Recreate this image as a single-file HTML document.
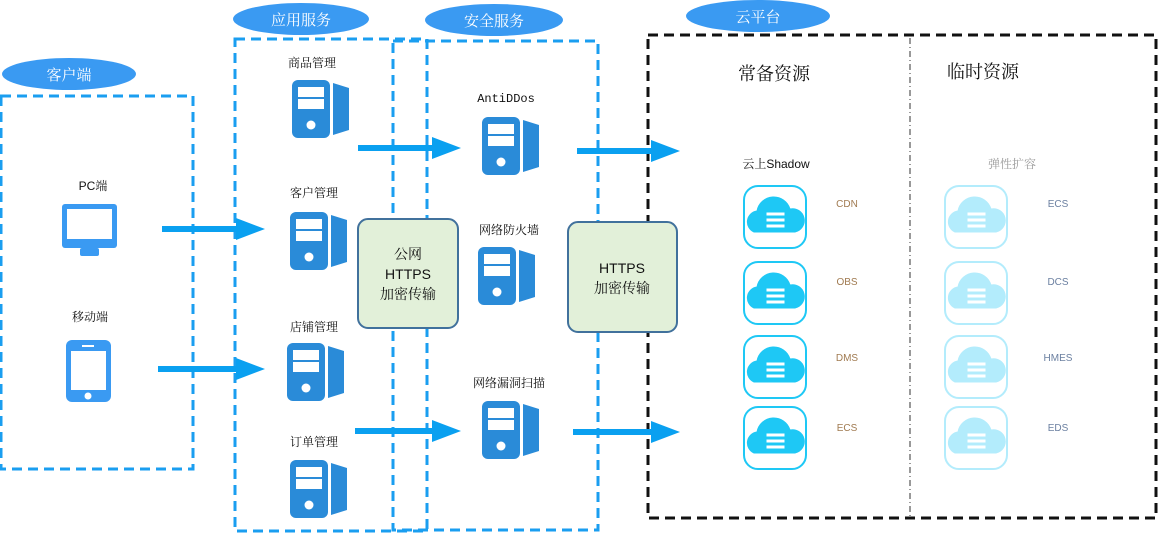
<!DOCTYPE html>
<html><head><meta charset="utf-8"><style>
body{margin:0;background:#fff;}
svg{display:block;font-family:"Liberation Sans","Noto Serif CJK SC",serif;}
</style></head><body>
<svg width="1163" height="534" viewBox="0 0 1163 534" xmlns="http://www.w3.org/2000/svg">
<defs>
<g id="srv">
<rect x="0" y="0" width="38" height="58" rx="6" fill="#2a8bd8"/>
<rect x="6" y="7" width="26" height="10" fill="#fff"/>
<rect x="6" y="19" width="26" height="10" fill="#fff"/>
<circle cx="19" cy="45" r="4.5" fill="#fff"/>
<path d="M41 3 L57 8 L57 50 L41 55 Z" fill="#2a8bd8"/>
</g>
<g id="cld">
<rect x="0" y="0" width="62" height="62" rx="14" fill="#fff" stroke-width="2"/>
<path d="M10 46 a11 11 0 0 1 3 -21 a17 17 0 0 1 33 -2 a11 11 0 0 1 5 23 Z"/>
<rect x="22" y="26" width="19" height="4" fill="#fff"/>
<rect x="22" y="32" width="19" height="4" fill="#fff"/>
<rect x="22" y="38" width="19" height="4" fill="#fff"/>
</g>
</defs>
<g fill="none" stroke="#1a9ef0" stroke-width="3" stroke-dasharray="10,6">
<rect x="1" y="96" width="192" height="373"/>
<rect x="235" y="39" width="192" height="492"/>
<rect x="393" y="41" width="205" height="489"/>
</g>
<rect x="648" y="35" width="508" height="483" fill="none" stroke="#111" stroke-width="3" stroke-dasharray="10,6"/>
<line x1="910" y1="38" x2="910" y2="516" stroke="#333" stroke-width="1" stroke-dasharray="6,3,1,3"/>
<g fill="#3a9af2">
<ellipse cx="69" cy="74" rx="67" ry="16"/>
<ellipse cx="301" cy="19" rx="68" ry="16"/>
<ellipse cx="494" cy="20" rx="69" ry="16"/>
<ellipse cx="758" cy="16" rx="72" ry="16"/>
</g>
<g fill="#fff" font-size="15" text-anchor="middle">
<text x="69" y="80">客户端</text>
<text x="301" y="25">应用服务</text>
<text x="494" y="26">安全服务</text>
<text x="758" y="22">云平台</text>
</g>
<g font-size="12" text-anchor="middle" fill="#111">
<text x="93" y="190">PC端</text>
<text x="90" y="321">移动端</text>
<text x="312" y="67">商品管理</text>
<text x="314" y="197">客户管理</text>
<text x="314" y="331">店铺管理</text>
<text x="314" y="446">订单管理</text>
<text x="506" y="102" font-family="Liberation Mono,monospace">AntiDDos</text>
<text x="509" y="234">网络防火墙</text>
<text x="509" y="387">网络漏洞扫描</text>
</g>
<rect x="62" y="204" width="55" height="44" rx="3" fill="#3a9af2"/>
<rect x="67" y="209" width="45" height="30" fill="#fff"/>
<rect x="80" y="248" width="19" height="8" rx="2" fill="#3a9af2"/>
<rect x="66" y="340" width="45" height="62" rx="6" fill="#3a9af2"/>
<rect x="71" y="351" width="35" height="39" fill="#fff"/>
<circle cx="88" cy="396" r="3.5" fill="#fff"/>
<rect x="82" y="345" width="12" height="2" fill="#fff"/>
<use href="#srv" x="292" y="80"/>
<use href="#srv" x="290" y="212"/>
<use href="#srv" x="287" y="343"/>
<use href="#srv" x="290" y="460"/>
<use href="#srv" x="482" y="117"/>
<use href="#srv" x="478" y="247"/>
<use href="#srv" x="482" y="401"/>
<g fill="#0aa0f0">
<rect x="162" y="226" width="76" height="6"/><path d="M236 218 L265 229 L236 240Z"/>
<rect x="158" y="366" width="80" height="6"/><path d="M236 358 L265 369 L236 380Z"/>
<rect x="358" y="145" width="76" height="6"/><path d="M432 137 L461 148 L432 159Z"/>
<rect x="355" y="428" width="79" height="6"/><path d="M432 420 L461 431 L432 442Z"/>
<rect x="577" y="148" width="76" height="6"/><path d="M651 140 L680 151 L651 162Z"/>
<rect x="573" y="429" width="80" height="6"/><path d="M651 421 L680 432 L651 443Z"/>
</g>
<rect x="358" y="219" width="100" height="109" rx="10" fill="#e2f0d9" stroke="#41719c" stroke-width="2"/>
<rect x="568" y="222" width="109" height="110" rx="10" fill="#e2f0d9" stroke="#41719c" stroke-width="2"/>
<g font-size="14" text-anchor="middle" fill="#111">
<text x="408" y="259">公网</text>
<text x="408" y="279">HTTPS</text>
<text x="408" y="299">加密传输</text>
<text x="622" y="273">HTTPS</text>
<text x="622" y="293">加密传输</text>
</g>
<g font-size="18" text-anchor="middle" fill="#111">
<text x="774" y="80">常备资源</text>
<text x="983" y="78">临时资源</text>
</g>
<text x="776" y="168" font-size="12" text-anchor="middle" fill="#111">云上Shadow</text>
<text x="1012" y="168" font-size="12" text-anchor="middle" fill="#999">弹性扩容</text>
<g stroke="#1ec8f5" fill="#1ec8f5">
<use href="#cld" x="744" y="186"/>
<use href="#cld" x="744" y="262"/>
<use href="#cld" x="744" y="336"/>
<use href="#cld" x="744" y="407"/>
</g>
<g stroke="#b3ecfc" fill="#b3ecfc">
<use href="#cld" x="945" y="186"/>
<use href="#cld" x="945" y="262"/>
<use href="#cld" x="945" y="336"/>
<use href="#cld" x="945" y="407"/>
</g>
<g font-size="10" fill="#a07a50" text-anchor="middle">
<text x="847" y="207">CDN</text>
<text x="847" y="285">OBS</text>
<text x="847" y="361">DMS</text>
<text x="847" y="431">ECS</text>
</g>
<g font-size="10" fill="#6a7fa0" text-anchor="middle">
<text x="1058" y="207">ECS</text>
<text x="1058" y="285">DCS</text>
<text x="1058" y="361">HMES</text>
<text x="1058" y="431">EDS</text>
</g>
</svg>
</body></html>
